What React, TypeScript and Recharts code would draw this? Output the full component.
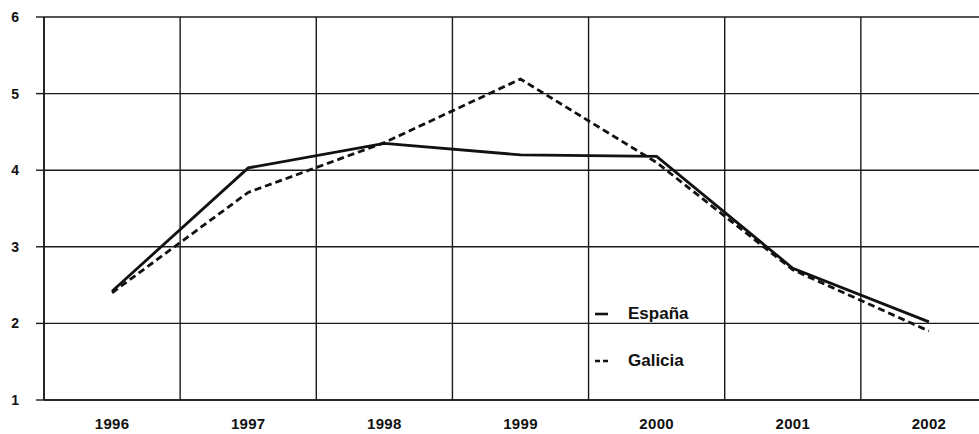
import { LineChart, Line, XAxis, YAxis, CartesianGrid } from 'recharts';

const years = ['1996', '1997', '1998', '1999', '2000', '2001', '2002'];
const espana = [2.42, 4.03, 4.35, 4.2, 4.18, 2.72, 2.02];
const galicia = [2.4, 3.71, 4.36, 5.19, 4.1, 2.7, 1.9];
const yTicks = [1, 2, 3, 4, 5, 6];

const seriesNames = ['España', 'Galicia'];
const seriesDashes = ['', '7 4'];

const data = years.map((year, i) => ({ year, espana: espana[i], galicia: galicia[i] }));

const FONT = '"Liberation Sans", Arial, sans-serif';

// legend sits inside the plot, over the 2000 column
const LegendBox = () => (
    <div
        style={{
            position: 'absolute',
            left: 593,
            top: 290,
            fontFamily: FONT,
            fontSize: 17,
            fontWeight: 'bold',
            color: '#111',
        }}
    >
        {seriesNames.map((name, i) => (
            <div key={name} style={{ display: 'flex', alignItems: 'center', height: 47 }}>
                <svg width={35} height={6}>
                    <line
                        x1={2}
                        y1={3}
                        x2={15}
                        y2={3}
                        stroke="#111"
                        strokeWidth={2.6}
                        strokeDasharray={seriesDashes[i] ? '5 3' : undefined}
                    />
                </svg>
                <span>{name}</span>
            </div>
        ))}
    </div>
);

export default function App() {
    // plot area runs past the right edge of the window, as in the scan
    return (
        <div style={{ position: 'absolute', left: 0, top: 0, width: 979, height: 434, overflow: 'hidden', background: '#fff' }}>
            <LineChart width={1000} height={434} data={data} margin={{ top: 17, right: 3, left: 0, bottom: 0 }}>
                <CartesianGrid
                    stroke="#1a1a1a"
                    strokeWidth={1.4}
                    verticalCoordinatesGenerator={({ offset }: any) =>
                        years.map((_, i) => offset.left + (offset.width / years.length) * i)
                    }
                />
                <XAxis
                    dataKey="year"
                    scale="band"
                    height={34}
                    tickSize={0}
                    tickLine={false}
                    tickMargin={18}
                    axisLine={{ stroke: '#1a1a1a', strokeWidth: 1.6 }}
                    tick={{ fill: '#111', fontSize: 15, fontWeight: 'bold', fontFamily: FONT, letterSpacing: 0.3 }}
                />
                <YAxis
                    domain={[1, 6]}
                    ticks={yTicks}
                    width={44}
                    tickSize={8}
                    tickMargin={17}
                    axisLine={{ stroke: '#1a1a1a', strokeWidth: 1.6 }}
                    tickLine={{ stroke: '#1a1a1a', strokeWidth: 1.4 }}
                    tick={{ fill: '#111', fontSize: 14, fontWeight: 'bold', fontFamily: FONT }}
                />
                <Line
                    name={seriesNames[0]}
                    dataKey="espana"
                    stroke="#111"
                    strokeWidth={2.8}
                    dot={false}
                    isAnimationActive={false}
                />
                <Line
                    name={seriesNames[1]}
                    dataKey="galicia"
                    stroke="#111"
                    strokeWidth={2.8}
                    strokeDasharray={seriesDashes[1]}
                    dot={false}
                    isAnimationActive={false}
                />
            </LineChart>
            <LegendBox />
        </div>
    );
}
